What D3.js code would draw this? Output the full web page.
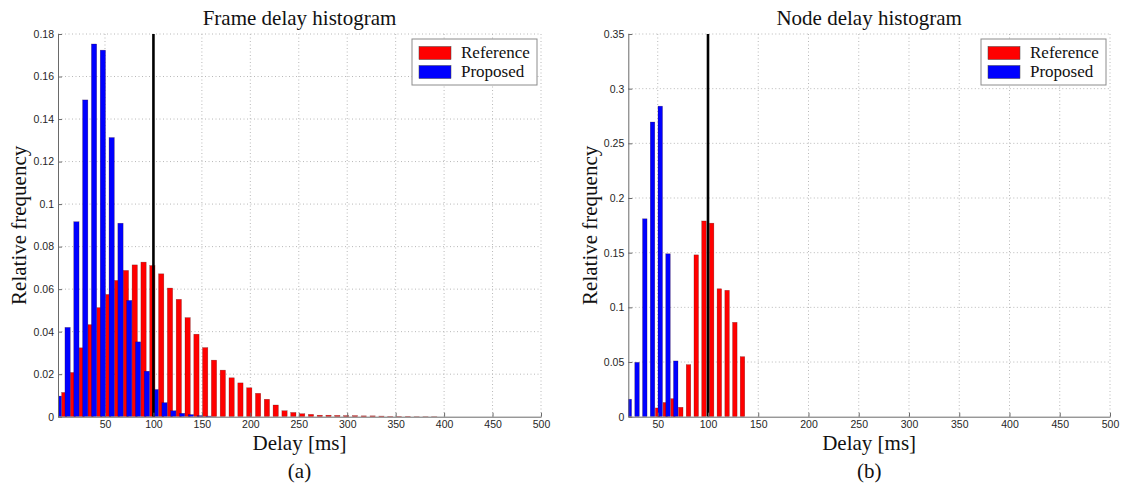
<!DOCTYPE html>
<html>
<head>
<meta charset="utf-8">
<script src="https://cdn.jsdelivr.net/npm/d3@7"></script>
<style>
  body { margin: 0; background: #fff; }
  svg { display: block; }
</style>
</head>
<body>
<div id="chart"></div>
<script>
// (a) frame delay: bin centres [ms] and relative frequency per series
const frameRefBins = [8.0, 17.0, 26.1, 35.2, 44.3, 53.4, 62.5, 71.6, 80.7, 89.8, 98.9, 108.0, 117.1, 126.2, 135.3,
  144.4, 153.4, 162.5, 171.6, 180.7, 189.8, 198.9, 208.0, 217.1, 226.2, 235.3, 244.4, 253.5, 262.6, 271.7, 280.7,
  289.8, 298.9, 308.0, 317.1, 326.2, 335.3, 344.4, 353.5, 362.6, 371.7, 380.8, 389.9]
const frameRefValues = [0.0114, 0.0208, 0.0324, 0.0433, 0.0513, 0.0575, 0.0641, 0.0688, 0.0714, 0.0727, 0.0711,
  0.0672, 0.0605, 0.0552, 0.0466, 0.0388, 0.0325, 0.0266, 0.0219, 0.0183, 0.0159, 0.0136, 0.0110, 0.0082, 0.0055,
  0.0028, 0.0020, 0.0014, 0.0011, 0.0007, 0.0007, 0.0006, 0.0005, 0.0005, 0.0004, 0.0004, 0.0003, 0.0002, 0.0002,
  0.0002, 0.0001, 0.0001, 0.0001]
const frameProBins = [2.3, 11.4, 20.5, 29.6, 38.7, 47.8, 56.9, 66.0, 75.0, 84.1, 93.2, 102.3, 111.4, 120.5, 129.6,
  138.7, 147.8, 156.9]
const frameProValues = [0.0097, 0.0420, 0.0917, 0.1490, 0.1753, 0.1724, 0.1313, 0.0910, 0.0547, 0.0352, 0.0214,
  0.0128, 0.0066, 0.0028, 0.0016, 0.0010, 0.0005, 0.0003]
const frameYTicks = [0, 0.02, 0.04, 0.06, 0.08, 0.1, 0.12, 0.14, 0.16, 0.18]

// (b) node delay
const nodeRefBins = [49.9, 57.6, 65.2, 72.9, 80.6, 88.3, 96.0, 103.6, 111.3, 119.0, 126.7, 134.3]
const nodeRefValues = [0.008, 0.013, 0.0165, 0.0086, 0.0476, 0.148, 0.179, 0.177, 0.117, 0.1156, 0.0863, 0.0549]
const nodeProBins = [21.7, 29.4, 37.1, 44.8, 52.5, 60.2, 67.9]
const nodeProValues = [0.016, 0.0497, 0.181, 0.2695, 0.284, 0.149, 0.051]
const nodeYTicks = [0, 0.05, 0.1, 0.15, 0.2, 0.25, 0.3, 0.35]

const xTicks = [50, 100, 150, 200, 250, 300, 350, 400, 450, 500]
const deadline = 100
const seriesNames = ['Reference', 'Proposed']
const seriesColors = ['#ff0000', '#0000ff']

const serif = '"Liberation Serif", "Times New Roman", serif'
const sans = '"Liberation Sans", Arial, sans-serif'

const svg = d3.select('#chart')
  .append('svg')
  .attr('width', 1123)
  .attr('height', 492)
  .style('background', '#fff')

function fmt (d) {
  return d === 0 ? '0' : String(+d.toFixed(2))
}

function drawPanel (p) {
  const x = d3.scaleLinear().domain([p.xMin, 500]).range([p.left, p.right])
  const y = d3.scaleLinear().domain([0, p.yMax]).range([p.bottom, p.top])
  const g = svg.append('g').attr('class', 'panel-' + p.tag)
  const midX = (p.left + p.right) / 2

  // dotted grid
  g.append('g').selectAll('line')
    .data(xTicks)
    .join('line')
    .attr('x1', d => x(d)).attr('x2', d => x(d))
    .attr('y1', p.top).attr('y2', p.bottom)
    .attr('stroke', '#b8b8b8')
    .attr('stroke-dasharray', '1,2.5')
  g.append('g').selectAll('line')
    .data(p.yTicks.filter(d => d > 0))
    .join('line')
    .attr('x1', p.left).attr('x2', p.right)
    .attr('y1', d => y(d)).attr('y2', d => y(d))
    .attr('stroke', '#b8b8b8')
    .attr('stroke-dasharray', '1,2.5')

  svg.append('clipPath')
    .attr('id', 'clip-' + p.tag)
    .append('rect')
    .attr('x', p.left).attr('y', p.top)
    .attr('width', p.right - p.left).attr('height', p.bottom - p.top)

  const plot = g.append('g').attr('clip-path', 'url(#clip-' + p.tag + ')')

  // reference first, proposed drawn on top
  const series = [
    { bins: p.refBins, values: p.refValues, color: seriesColors[0] },
    { bins: p.proBins, values: p.proValues, color: seriesColors[1] }
  ]
  series.forEach(function (s) {
    plot.append('g').selectAll('rect')
      .data(s.values)
      .join('rect')
      .attr('x', (d, i) => x(s.bins[i] - p.barWidth / 2))
      .attr('width', (d, i) => x(s.bins[i] + p.barWidth / 2) - x(s.bins[i] - p.barWidth / 2))
      .attr('y', d => y(d))
      .attr('height', d => y(0) - y(d))
      .attr('fill', s.color)
      .attr('stroke', '#300')
      .attr('stroke-opacity', 0.45)
      .attr('stroke-width', 0.5)
  })

  // 100 ms line
  plot.append('line')
    .attr('x1', x(deadline)).attr('x2', x(deadline))
    .attr('y1', p.top).attr('y2', p.bottom)
    .attr('stroke', '#000')
    .attr('stroke-width', 2.6)

  // axes
  const xAxis = g.append('g')
    .attr('transform', 'translate(0,' + p.bottom + ')')
    .call(d3.axisBottom(x).tickValues(xTicks).tickSizeInner(-4).tickSizeOuter(0).tickPadding(4).tickFormat(d3.format('d')))
  const yAxis = g.append('g')
    .attr('transform', 'translate(' + p.left + ',0)')
    .call(d3.axisLeft(y).tickValues(p.yTicks).tickSizeInner(-4).tickSizeOuter(0).tickPadding(4).tickFormat(fmt))
  ;[xAxis, yAxis].forEach(function (a) {
    a.select('.domain').attr('stroke', '#6a6a6a')
    a.selectAll('.tick line').attr('stroke', '#6a6a6a')
    a.selectAll('.tick text')
      .attr('fill', '#262626')
      .style('font-family', sans)
      .style('font-size', '10.5px')
  })

  // legend
  const lg = g.append('g')
    .attr('transform', 'translate(' + (p.right - 129) + ',' + (p.top + 5) + ')')
  lg.append('rect')
    .attr('width', 125).attr('height', 46)
    .attr('fill', '#fff')
    .attr('stroke', '#8c8c8c')
  seriesNames.forEach(function (name, i) {
    lg.append('rect')
      .attr('x', 7).attr('y', 7.5 + i * 19)
      .attr('width', 32).attr('height', 13)
      .attr('fill', seriesColors[i])
      .attr('stroke', '#444')
      .attr('stroke-width', 0.5)
    lg.append('text')
      .attr('x', 49).attr('y', 19 + i * 19)
      .style('font-family', serif)
      .style('font-size', '17px')
      .attr('fill', '#111')
      .text(name)
  })

  // texts
  g.append('text')
    .attr('x', midX).attr('y', 25)
    .attr('text-anchor', 'middle')
    .style('font-family', serif).style('font-size', '21px')
    .attr('fill', '#111')
    .text(p.title)
  g.append('text')
    .attr('x', midX).attr('y', 450)
    .attr('text-anchor', 'middle')
    .style('font-family', serif).style('font-size', '21px')
    .attr('fill', '#111')
    .text('Delay [ms]')
  g.append('text')
    .attr('transform', 'translate(' + p.yLabelX + ',' + ((p.top + p.bottom) / 2) + ') rotate(-90)')
    .attr('text-anchor', 'middle')
    .style('font-family', serif).style('font-size', '21px')
    .attr('fill', '#111')
    .text('Relative frequency')
  g.append('text')
    .attr('x', midX).attr('y', 478)
    .attr('text-anchor', 'middle')
    .style('font-family', serif).style('font-size', '21px')
    .attr('fill', '#111')
    .text('(' + p.tag + ')')
}

drawPanel({
  tag: 'a',
  title: 'Frame delay histogram',
  left: 58, right: 541, top: 34, bottom: 416.7,
  xMin: 1.5, yMax: 0.18, yTicks: frameYTicks,
  barWidth: 5.45, yLabelX: 26,
  refBins: frameRefBins, refValues: frameRefValues,
  proBins: frameProBins, proValues: frameProValues
})

drawPanel({
  tag: 'b',
  title: 'Node delay histogram',
  left: 628.3, right: 1110, top: 34, bottom: 416.7,
  xMin: 20.7, yMax: 0.35, yTicks: nodeYTicks,
  barWidth: 4.5, yLabelX: 597,
  refBins: nodeRefBins, refValues: nodeRefValues,
  proBins: nodeProBins, proValues: nodeProValues
})
</script>
</body>
</html>
